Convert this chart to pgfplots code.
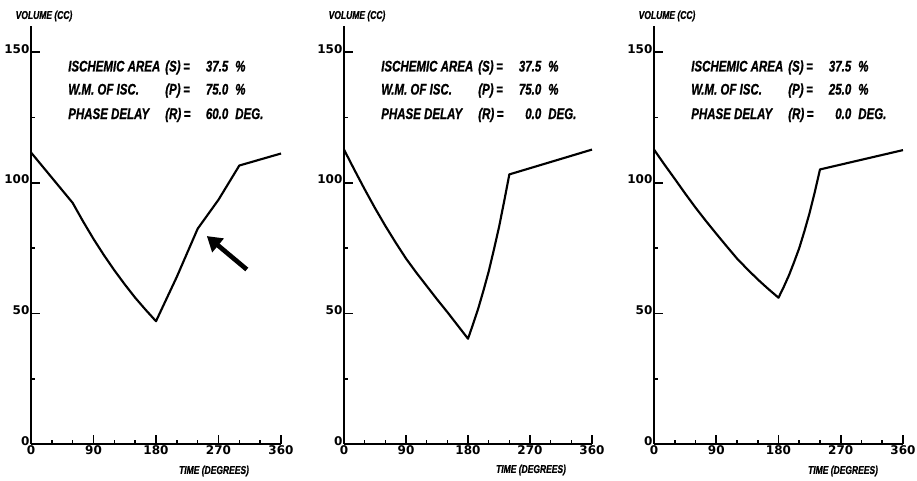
\documentclass[border=0pt]{standalone}
\usepackage{pgfplots}
\pgfplotsset{compat=1.18}
\usepackage{fontspec}
\setmainfont{Liberation Sans}
\newfontfamily\plotfont[FakeStretch=0.75, BoldItalicFeatures={FakeBold=0.8}]{Liberation Sans}
\newfontfamily\tickfont{DejaVu Sans}
\usetikzlibrary{arrows.meta}

\pgfplotstableread{
x y
0 111.6
60 92.3
75 85.2
90 78.5
105 72.3
120 66.5
135 61.1
150 56
165 51.4
180 47
210 64
240 82.4
270 93.5
300 106.6
360 111.2
}\dataA
\pgfplotstableread{
x y
0 112.7
15 105
30 97.5
45 90.3
60 83.5
75 77.1
90 71
105 65.6
120 60.5
135 55.4
150 50.5
165 45.4
180 40.3
187.5 46
195 52
202.5 58.8
210 66
217.5 74.3
225 83
232.5 92.9
240 103.2
360 112.7
}\dataB
\pgfplotstableread{
x y
0 112.7
15 107
30 101.5
45 95.9
60 90.5
75 85.4
90 80.5
105 75.7
120 71
135 66.9
150 63
165 59.4
180 56
187.5 60.1
195 64.5
202.5 69.6
210 75
217.5 81.5
225 88.5
232.5 96.5
240 105.1
360 112.5
}\dataC

\pgfplotsset{
  panel/.style={
    scale only axis, height=313.5pt,
    xmin=0, xmax=360, ymin=0, ymax=160,
    anchor=south west,
    axis lines=left,
    axis line style={-, line width=1.5pt},
    tick align=inside,
    xtick={0,90,180,270,360},
    xticklabels={0,90,180,270,360},
    minor xtick={30,60,120,150,210,240,300,330},
    ytick={0,50,100,150},
    yticklabels={0,50,100,150},
    minor ytick={25,75,125},
    major tick length=7pt, minor tick length=3pt,
    every tick/.style={black, line width=1.2pt},
    /pgf/number format/assume math mode=true,
    tick label style={font=\tickfont\bfseries\fontsize{9}{10}\selectfont},
    xticklabel style={inner sep=1pt},
    yticklabel style={inner sep=1pt, yshift=2.5pt},
    clip=false,
  },
  curve/.style={black, line width=1.6pt, line join=round, no markers},
}

\newcommand\infofont{\plotfont\bfseries\itshape\fontsize{11.5}{13}\selectfont}
\newcommand\labfont{\plotfont\bfseries\itshape\fontsize{8.5}{10}\selectfont}
\newcommand\infoline[4]{\makebox[72.75pt][l]{#1}\makebox[24.75pt][l]{#2}\makebox[22.5pt][r]{#3}\hspace{5.25pt}#4}

\begin{document}
\begin{tikzpicture}
\path[use as bounding box] (0pt,0pt) rectangle (687.75pt,-360pt);

% Panel 1
\begin{axis}[panel, width=187.5pt, at={(23.25pt,-333pt)}]
\addplot[curve] table[x=x,y=y] {\dataA};
\draw[line width=3.5pt, -{Triangle[length=11pt, width=13pt]}] (axis cs:310.8,66.8) -- (axis cs:253.2,79.6);
\end{axis}

% Panel 2
\begin{axis}[panel, width=186pt, at={(258pt,-333pt)}]
\addplot[curve] table[x=x,y=y] {\dataB};
\end{axis}

% Panel 3
\begin{axis}[panel, width=186.75pt, at={(490.5pt,-333pt)}]
\addplot[curve] table[x=x,y=y] {\dataC};
\end{axis}

% Axis labels
\node[font=\labfont] at (33pt,-12pt) {VOLUME (CC)};
\node[font=\labfont] at (267.75pt,-12pt) {VOLUME (CC)};
\node[font=\labfont] at (500.25pt,-12pt) {VOLUME (CC)};
\node[font=\labfont] at (160.5pt,-353.25pt) {TIME (DEGREES)};
\node[font=\labfont] at (398.25pt,-352.5pt) {TIME (DEGREES)};
\node[font=\labfont] at (632.25pt,-353.25pt) {TIME (DEGREES)};

% Info texts
\foreach \xx/\pp/\rr in {51pt/75.0/60.0, 285.75pt/75.0/0.0, 518.25pt/25.0/0.0}{
  \node[font=\infofont, anchor=base west, inner sep=0pt] at (\xx,-53.6pt) {\infoline{ISCHEMIC AREA}{(S)\,=}{37.5}{\%}};
  \node[font=\infofont, anchor=base west, inner sep=0pt] at (\xx,-70.9pt) {\infoline{W.M. OF ISC.}{(P)\,=}{\pp}{\%}};
  \node[font=\infofont, anchor=base west, inner sep=0pt] at (\xx,-89.25pt) {\infoline{PHASE DELAY}{(R)\,=}{\rr}{DEG.}};
}
\end{tikzpicture}
\end{document}
